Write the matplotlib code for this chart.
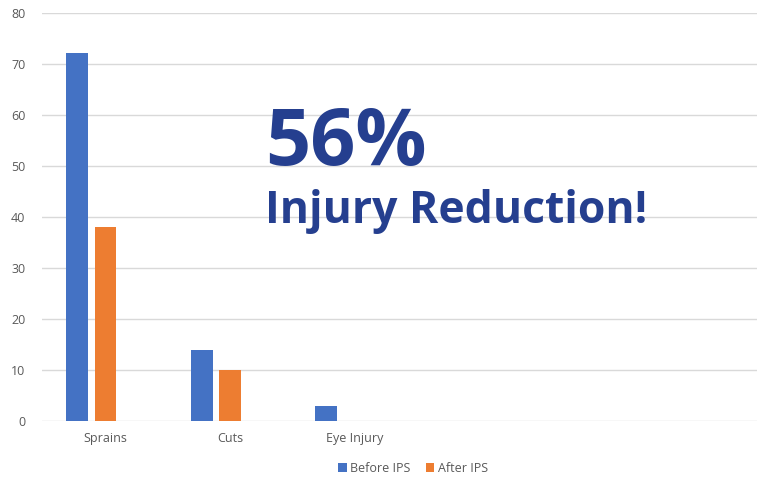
import matplotlib
matplotlib.use('Agg')
import matplotlib.pyplot as plt
import numpy as np

categories = ['Sprains', 'Cuts', 'Eye Injury']
before_ips = [72, 14, 3]
after_ips = [38, 10, 0]
series_names = ['Before IPS', 'After IPS']
y_ticks = [0, 10, 20, 30, 40, 50, 60, 70, 80]

BLUE = '#4472C4'
ORANGE = '#ED7D31'
NAVY = '#253F8F'
GREY = '#595959'

plt.rcParams['font.family'] = ['Open Sans', 'DejaVu Sans']

W, H = 757, 479
fig = plt.figure(figsize=(W / 100, H / 100), dpi=100)
ax = fig.add_axes([42 / W, 58 / H, (W - 42) / W, 408.5 / H])

x = np.arange(len(categories))
bw = 0.175
step = 0.227  # the chart has a third (empty) slot per group, so labels sit right of the bars
ax.bar(x - step, before_ips, bw, color=BLUE, label=series_names[0], zorder=3)
ax.bar(x, after_ips, bw, color=ORANGE, label=series_names[1], zorder=3)

ax.set_xlim(-0.51, (W - 42) / 124.5 - 0.51)
ax.set_ylim(0, 80)
ax.set_yticks(y_ticks)
ax.set_xticks(x)
ax.set_xticklabels(categories)
ax.tick_params(axis='both', length=0, labelsize=9, colors=GREY, pad=8)
ax.tick_params(axis='y', pad=12)
ax.grid(axis='y', color='#D9D9D9', linewidth=1, zorder=0)
for s in ax.spines.values():
    s.set_visible(False)

fig.text(265 / W, 1 - 165 / H, '56%', fontsize=57, fontweight='bold',
         color=NAVY, ha='left', va='baseline')
fig.text(265 / W, 1 - 223 / H, 'Injury Reduction!', fontsize=32, fontweight='bold',
         color=NAVY, ha='left', va='baseline')

fig.legend(loc='center', bbox_to_anchor=(413 / W, 1 - 468 / H), ncol=2, frameon=False,
           fontsize=9, handlelength=0.7, handleheight=0.7, handletextpad=0.3,
           columnspacing=1.2, labelcolor=GREY)

fig.savefig('out.png', dpi=100)
